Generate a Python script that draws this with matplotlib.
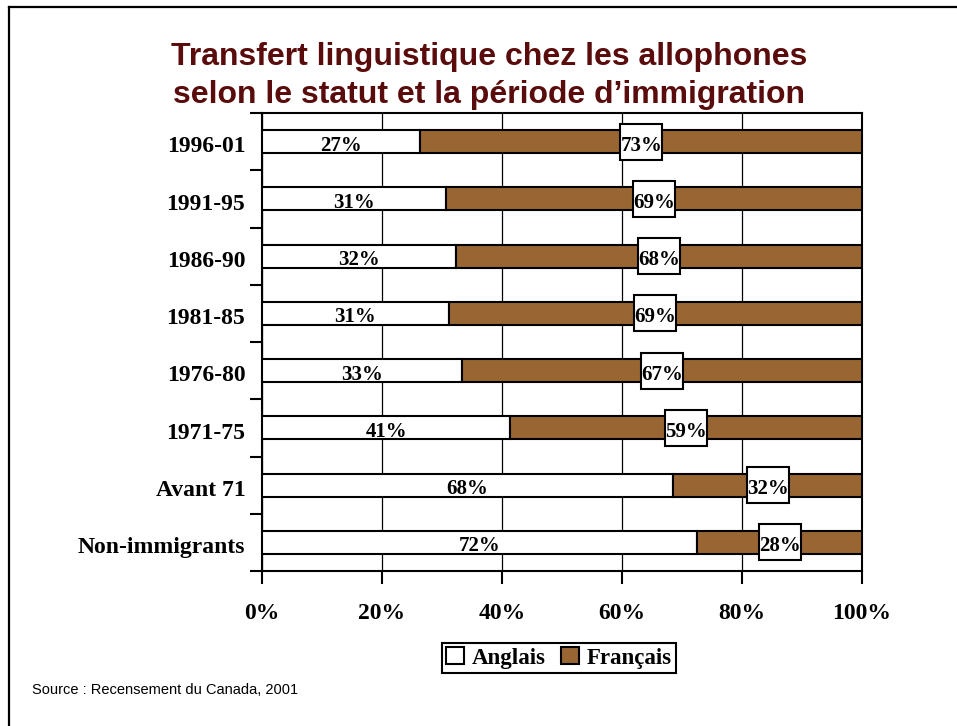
import matplotlib
matplotlib.use("Agg")
import matplotlib.pyplot as plt
from matplotlib.lines import Line2D
from matplotlib.patches import Patch, Rectangle
import numpy as np

categories = ["1996-01", "1991-95", "1986-90", "1981-85", "1976-80", "1971-75", "Avant 71", "Non-immigrants"]
anglais = [26.4, 30.7, 32.4, 31.1, 33.4, 41.4, 68.5, 72.5]
francais = [73.6, 69.3, 67.6, 68.9, 66.6, 58.6, 31.5, 27.5]
anglais_labels = ["27%", "31%", "32%", "31%", "33%", "41%", "68%", "72%"]
francais_labels = ["73%", "69%", "68%", "69%", "67%", "59%", "32%", "28%"]
xticks = [0, 20, 40, 60, 80, 100]
xtick_labels = ["0%", "20%", "40%", "60%", "80%", "100%"]
series_names = ["Anglais", "Français"]
title = "Transfert linguistique chez les allophones\nselon le statut et la période d\u2019immigration"
source = "Source : Recensement du Canada, 2001"

BROWN = "#996633"
SERIF = "Liberation Serif"
SANS = "Liberation Sans"

fig = plt.figure(figsize=(9.57, 7.26), dpi=100)
fig.patch.set_facecolor("white")

# figure frame (left and top edges)
fig.add_artist(Line2D([8.5/957, 8.5/957], [1 - 7/726, 0], transform=fig.transFigure, color="black", lw=1.6))
fig.add_artist(Line2D([8.5/957, 1], [1 - 7/726, 1 - 7/726], transform=fig.transFigure, color="black", lw=1.6))

ax = fig.add_axes([262/957, 1 - 571/726, 600/957, 458/726])
n = len(categories)
y = np.arange(n)

ax.barh(y, anglais, height=0.4, color="white", edgecolor="black", linewidth=1.5, zorder=3)
ax.barh(y, francais, left=anglais, height=0.4, color=BROWN, edgecolor="black", linewidth=1.5, zorder=3)

box_w = 7.0
box_h = 0.63
for i in range(n):
    ax.text(anglais[i] / 2, y[i] + 0.07, anglais_labels[i], ha="center", va="center",
            fontsize=15, fontweight="bold", family=SERIF, zorder=5)
    cx = anglais[i] + francais[i] / 2
    ax.add_patch(Rectangle((cx - box_w / 2, y[i] - box_h / 2), box_w, box_h,
                           facecolor="white", edgecolor="black", linewidth=1.5, zorder=4))
    ax.text(cx, y[i] + 0.07, francais_labels[i], ha="center", va="center",
            fontsize=15, fontweight="bold", family=SERIF, zorder=5)

ax.set_xlim(0, 100)
ax.set_ylim(n - 0.5, -0.5)
ax.set_xticks(xticks)
ax.set_xticklabels(xtick_labels, fontsize=17, fontweight="bold", family=SERIF)
ax.tick_params(axis="x", direction="out", length=9, width=1.5, pad=14)
ax.set_yticks(y + 0.05)
ax.set_yticklabels(categories, fontsize=17, fontweight="bold", family=SERIF)
ax.tick_params(axis="y", which="major", length=0, pad=12)
ax.set_yticks(np.arange(-0.5, n, 1.0), minor=True)
ax.tick_params(axis="y", which="minor", direction="out", length=9, width=1.5)
ax.grid(axis="x", color="black", linewidth=0.9, zorder=0)
ax.set_axisbelow(True)
for s in ax.spines.values():
    s.set_linewidth(1.5)

fig.text(489/957, 1 - 76/726, title, ha="center", va="center", fontsize=23, fontweight="bold",
         family=SANS, color="#5a0c0c", linespacing=1.38)

handles = [Patch(facecolor="white", edgecolor="black", linewidth=1.5),
           Patch(facecolor=BROWN, edgecolor="black", linewidth=1.5)]
leg = fig.legend(handles, series_names, loc="center", bbox_to_anchor=(559/957, 1 - 658/726),
                 ncol=2, frameon=True, fancybox=False, edgecolor="black", framealpha=1,
                 prop={"family": SERIF, "weight": "bold", "size": 16.5},
                 handlelength=0.75, handleheight=0.75, handletextpad=0.35, columnspacing=0.7,
                 borderpad=0.2, borderaxespad=0)
leg.get_frame().set_linewidth(1.5)

fig.text(32/957, 1 - 690/726, source, ha="left", va="center", fontsize=10.5, family=SANS)

fig.savefig("out.png", dpi=100, facecolor="white")
